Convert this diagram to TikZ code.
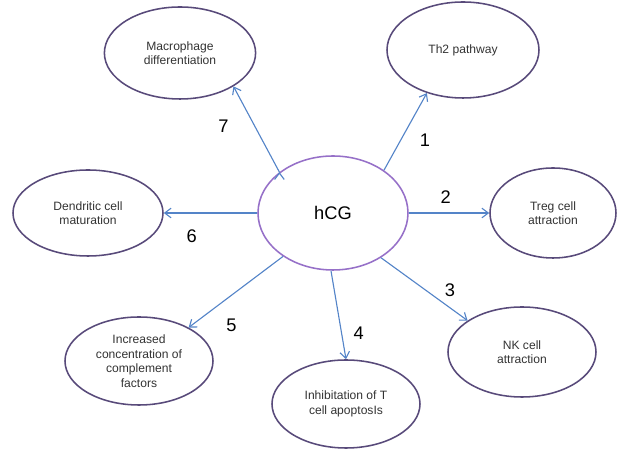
\documentclass[tikz,border=0pt]{standalone}
\usepackage{fontspec}
\setmainfont{Liberation Sans}
\usetikzlibrary{shapes.geometric, positioning, arrows.meta}
\definecolor{rim}{RGB}{88,74,122}
\definecolor{hcgrim}{RGB}{150,112,200}
\definecolor{arrowblue}{RGB}{84,132,200}
\pgfdeclareradialshading{hcgglow}{\pgfpoint{0bp}{0bp}}{color(0bp)=(white); color(28bp)=(white); color(50bp)=(black!22)}
\tikzset{
on grid, % distances are measured between node centres
effect/.style={ellipse, draw=rim, line width=1.1pt, minimum width=3.7cm, minimum height=2.2cm, inner sep=0pt, align=center, text=black!80, font=\fontsize{8.6}{10.3}\selectfont}, % the outer ellipses
hormone/.style={ellipse, draw=hcgrim, line width=1.1pt, minimum width=3.75cm, minimum height=2.85cm, shading=hcgglow, font=\fontsize{13}{15}\selectfont}, % the centre ellipse
link/.style={-{Straight Barb[length=1.6mm,width=2.4mm]}, draw=arrowblue, line width=0.8pt}, % the blue arrows
num/.style={font=\fontsize{13}{15}\selectfont, inner sep=0pt}, % numbers next to the arrows
}

\begin{document}
\begin{tikzpicture}
                \useasboundingbox (-8.325,-5.975) rectangle (7.35,5.325);
                \node[hormone] (hcg) {hCG};
                \node[effect, above left=4cm and 3.825cm of hcg, minimum width=3.78cm, minimum height=2.3cm] (mac) {Macrophage\\differentiation};
                \node[effect, above right=4.075cm and 3.25cm of hcg, minimum width=3.8cm, minimum height=2.4cm] (th2) {Th2 pathway};
                \node[effect, left=6.125cm of hcg, minimum width=3.75cm, minimum height=2.15cm] (den) {Dendritic cell\\maturation};
                \node[effect, right=5.5cm of hcg, minimum width=3.15cm, minimum height=2.25cm] (treg) {Treg cell\\attraction};
                \node[effect, below right=3.475cm and 4.725cm of hcg, minimum height=2.25cm] (nk) {NK cell\\attraction};
                \node[effect, below right=4.775cm and 0.325cm of hcg] (inh) {Inhibitation of T\\cell apoptosIs};
                \node[effect, below left=3.7cm and 4.85cm of hcg] (inc) {Increased\\concentration of\\complement\\factors};
                \draw[link]
                    (hcg.40) edge node[num, pos=0.52, xshift=0.47cm, yshift=-0.25cm] (n1) {1} (th2.230)
                    (hcg.east) edge node[num, pos=0.46, yshift=0.39cm] (n2) {2} (treg.west)
                    (hcg.-43) edge node[num, pos=0.7, xshift=0.21cm, yshift=0.29cm] (n3) {3} (nk.150)
                    (hcg.-92) edge node[num, pos=0.73, xshift=0.42cm, yshift=0.06cm] (n4) {4} (inh.north)
                    (hcg.221) edge node[num, pos=0.7, xshift=0.36cm, yshift=-0.47cm] (n5) {5} (inc.34)
                    (hcg.west) edge node[num, pos=0.7, yshift=-0.59cm] (n6) {6} (den.east)
                    (hcg.north west) edge node[num, pos=0.68, xshift=-0.62cm, yshift=-0.31cm] (n7) {7} (mac.-32)
                    ;
                \end{tikzpicture}
\end{document}
